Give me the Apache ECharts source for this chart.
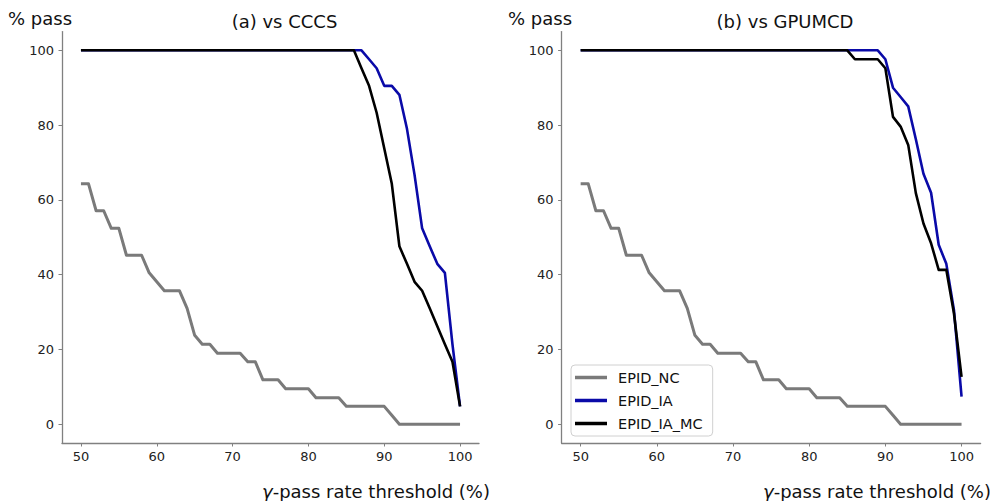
<!DOCTYPE html>
<html>
<head>
<meta charset="utf-8">
<script src="https://cdn.jsdelivr.net/npm/echarts@6/dist/echarts.min.js"></script>
<style>html,body{margin:0;padding:0;background:#fff;}#c{width:990px;height:501px;}</style>
</head>
<body>
<div id="c"></div>
<script>
const thresholds = [50,51,52,53,54,55,56,57,58,59,60,61,62,63,64,65,66,67,68,69,70,71,72,73,74,75,76,77,78,79,80,81,82,83,84,85,86,87,88,89,90,91,92,93,94,95,96,97,98,99,100];
const xTicks = [50,60,70,80,90,100];
const yTicks = [0,20,40,60,80,100];
const seriesNames = ['EPID_NC','EPID_IA','EPID_IA_MC'];
const panelTitles = ['(a) vs CCCS','(b) vs GPUMCD'];

const ncValues = [64.3,64.3,57.1,57.1,52.4,52.4,45.2,45.2,45.2,40.5,38.1,35.7,35.7,35.7,31.0,23.8,21.4,21.4,19.0,19.0,19.0,19.0,16.7,16.7,11.9,11.9,11.9,9.5,9.5,9.5,9.5,7.1,7.1,7.1,7.1,4.8,4.8,4.8,4.8,4.8,4.8,2.4,0,0,0,0,0,0,0,0,0];

const cccsIA = [100,100,100,100,100,100,100,100,100,100,100,100,100,100,100,100,100,100,100,100,100,100,100,100,100,100,100,100,100,100,100,100,100,100,100,100,100,100,97.6,95.2,90.5,90.5,88.1,79.0,66.7,52.4,47.6,42.9,40.5,21.4,4.8];
const cccsIAMC = [100,100,100,100,100,100,100,100,100,100,100,100,100,100,100,100,100,100,100,100,100,100,100,100,100,100,100,100,100,100,100,100,100,100,100,100,100,95.2,90.5,83.3,73.8,64.3,47.6,42.9,38.1,35.7,31.0,26.2,21.4,16.7,4.8];

const gpuIA = [100,100,100,100,100,100,100,100,100,100,100,100,100,100,100,100,100,100,100,100,100,100,100,100,100,100,100,100,100,100,100,100,100,100,100,100,100,100,100,100,97.6,90.0,87.5,85.0,76.2,67.0,61.9,48.0,42.9,30.6,7.4];
const gpuIAMC = [100,100,100,100,100,100,100,100,100,100,100,100,100,100,100,100,100,100,100,100,100,100,100,100,100,100,100,100,100,100,100,100,100,100,100,100,97.6,97.6,97.6,97.6,95.2,82.2,79.6,74.7,61.8,53.7,48.4,41.3,41.3,29.7,12.7];

const colors = ['#7a7a7a','#0a0aa8','#000000'];
const widths = [3,2.6,2.6];

function pairs(vals){ return thresholds.map((t,i)=>[t,vals[i]]); }

const chart = echarts.init(document.getElementById('c'), null, {renderer:'svg'});

const grids = [
  {left:62, top:31.6, width:417, height:411.4},
  {left:561.6, top:31.6, width:419, height:411.4}
];

function xAxis(gi){
  return {
    type:'value', gridIndex:gi, min:47.5, max:102.5,
    splitLine:{show:false},
    axisLine:{show:true, onZero:false, lineStyle:{color:'#808080', width:1.3}},
    axisTick:{show:true, length:3.5, customValues:xTicks, lineStyle:{color:'#808080', width:1}},
    axisLabel:{customValues:xTicks, color:'#222', fontSize:13, fontFamily:'DejaVu Sans', margin:7}
  };
}
function yAxis(gi){
  return {
    type:'value', gridIndex:gi, min:-5, max:105,
    splitLine:{show:false},
    axisLine:{show:true, onZero:false, lineStyle:{color:'#808080', width:1.3}},
    axisTick:{show:true, length:3.5, customValues:yTicks, lineStyle:{color:'#808080', width:1}},
    axisLabel:{customValues:yTicks, color:'#222', fontSize:13, fontFamily:'DejaVu Sans', margin:8}
  };
}

const panelData = [[ncValues,cccsIA,cccsIAMC],[ncValues,gpuIA,gpuIAMC]];
const series = [];
panelData.forEach((set,gi)=>{
  set.forEach((vals,si)=>{
    series.push({
      name:seriesNames[si], type:'line', xAxisIndex:gi, yAxisIndex:gi,
      data:pairs(vals), showSymbol:false, symbol:'none', animation:false,
      lineStyle:{color:colors[si], width:widths[si], join:'round'},
      itemStyle:{color:colors[si]}, z:si+2
    });
  });
});

const labelFont = {fontFamily:'DejaVu Sans', fontSize:18, fill:'#111'};
const graphics = [
  {type:'text', left:8, top:9, style:Object.assign({text:'% pass'}, labelFont)},
  {type:'text', left:508, top:9, style:Object.assign({text:'% pass'}, labelFont)},
  {type:'text', x:284.5, y:21, style:Object.assign({text:panelTitles[0], textAlign:'center', textVerticalAlign:'middle'}, labelFont)},
  {type:'text', x:785, y:21, style:Object.assign({text:panelTitles[1], textAlign:'center', textVerticalAlign:'middle'}, labelFont)},
  {type:'text', x:490, y:491, style:{text:'{g|γ}-pass rate threshold (%)', textAlign:'right', textVerticalAlign:'middle', fontFamily:'DejaVu Sans', fontSize:18, fill:'#111', rich:{g:{fontStyle:'italic', fontFamily:'DejaVu Sans', fontSize:18, fill:'#111'}}}},
  {type:'text', x:991, y:491, style:{text:'{g|γ}-pass rate threshold (%)', textAlign:'right', textVerticalAlign:'middle', fontFamily:'DejaVu Sans', fontSize:18, fill:'#111', rich:{g:{fontStyle:'italic', fontFamily:'DejaVu Sans', fontSize:18, fill:'#111'}}}}
];

chart.setOption({
  backgroundColor:'#fff',
  animation:false,
  grid:grids,
  xAxis:[xAxis(0), xAxis(1)],
  yAxis:[yAxis(0), yAxis(1)],
  legend:{
    data:seriesNames, orient:'vertical', left:571, top:365,
    icon:'rect', itemWidth:32, itemHeight:3.5, itemGap:8,
    padding:[5,10,5,4], borderColor:'#d0d0d0', borderWidth:1, borderRadius:4,
    backgroundColor:'rgba(255,255,255,0.8)',
    textStyle:{fontFamily:'DejaVu Sans', fontSize:14.5, color:'#111', padding:[0,0,0,6]},
    selectedMode:false
  },
  series:series,
  graphic:graphics
});
</script>
</body>
</html>
